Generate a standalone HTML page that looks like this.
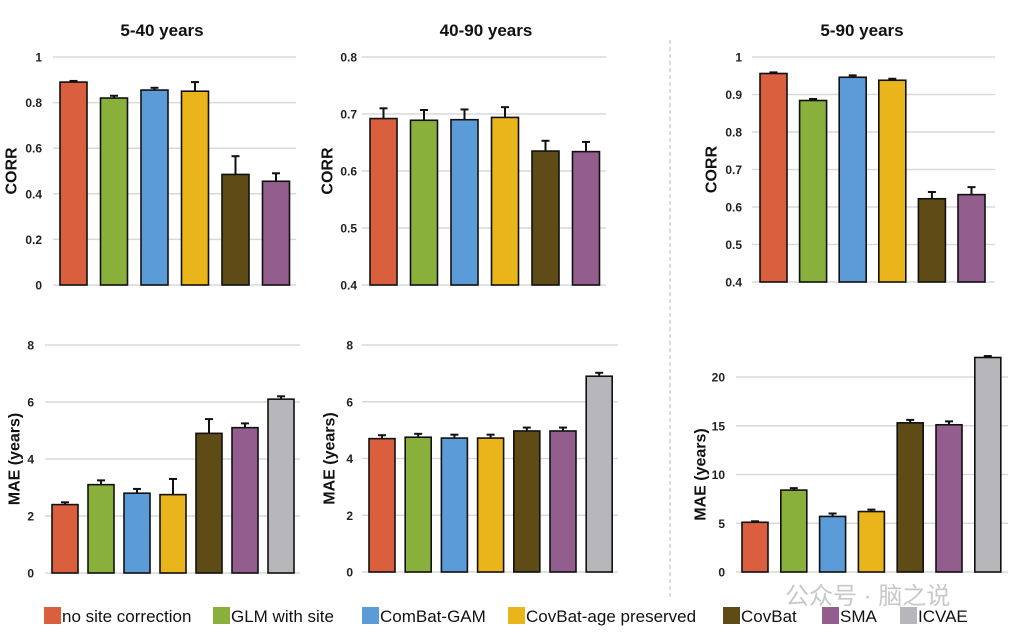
<!DOCTYPE html>
<html><head><meta charset="utf-8"><style>
body{margin:0;background:#fff;width:1021px;height:639px;overflow:hidden;font-family:"Liberation Sans",Arial,sans-serif}
svg{position:absolute;left:0;top:0}
</style></head><body>
<svg id="c" width="1021" height="639"></svg>
<script>
const colors=["#d95f3f","#88b03a","#5a9bd8","#e9b51a","#5e4b16","#935d8e","#b7b6ba"];
const names=["no site correction","GLM with site","ComBat-GAM","CovBat-age preserved","CovBat","SMA","ICVAE"];
const corr540=[0.89,0.82,0.855,0.85,0.485,0.455];
const corr540Err=[0.005,0.01,0.01,0.04,0.08,0.035];
const corr4090=[0.692,0.689,0.690,0.694,0.635,0.634];
const corr4090Err=[0.018,0.018,0.018,0.018,0.018,0.017];
const corr590=[0.956,0.884,0.946,0.938,0.622,0.633];
const corr590Err=[0.003,0.004,0.005,0.004,0.018,0.02];
const mae540=[2.4,3.1,2.8,2.75,4.9,5.1,6.1];
const mae540Err=[0.08,0.15,0.15,0.55,0.5,0.15,0.1];
const mae4090=[4.7,4.75,4.72,4.72,4.97,4.97,6.9];
const mae4090Err=[0.12,0.12,0.12,0.12,0.12,0.12,0.12];
const mae590=[5.1,8.4,5.7,6.2,15.3,15.1,22.0];
const mae590Err=[0.1,0.2,0.3,0.2,0.3,0.35,0.15];
const corrTicks540=[0,0.2,0.4,0.6,0.8,1];
const corrTicks4090=[0.4,0.5,0.6,0.7,0.8];
const corrTicks590=[0.4,0.5,0.6,0.7,0.8,0.9,1];
const maeTicks=[0,2,4,6,8];
const maeTicks590=[0,5,10,15,20];
const titles=["5-40 years","40-90 years","5-90 years"];

const svg=document.getElementById('c');
const NS="http://www.w3.org/2000/svg";
function mk(tag,attrs,parent){const e=document.createElementNS(NS,tag);for(const k in attrs)e.setAttribute(k,attrs[k]);(parent||svg).appendChild(e);return e;}
function tickLabel(t){return String(t);}

const panels=[
 {name:"corr-5-40",vals:corr540,err:corr540Err,ticks:corrTicks540,min:0,max:1,yTop:57,yBot:285,x0:60,step:40.5,bw:27,gx0:53,gx1:296,lx:42,ylab:"CORR",ylx:12},
 {name:"corr-40-90",vals:corr4090,err:corr4090Err,ticks:corrTicks4090,min:0.4,max:0.8,yTop:57,yBot:285,x0:370,step:40.5,bw:27,gx0:362,gx1:606,lx:357,ylab:"CORR",ylx:328},
 {name:"corr-5-90",vals:corr590,err:corr590Err,ticks:corrTicks590,min:0.4,max:1,yTop:57,yBot:282,x0:760,step:39.6,bw:27,gx0:752,gx1:995,lx:742,ylab:"CORR",ylx:712},
 {name:"mae-5-40",vals:mae540,err:mae540Err,ticks:maeTicks,min:0,max:8,yTop:345,yBot:573,x0:52,step:36,bw:26,gx0:45,gx1:300,lx:34,ylab:"MAE (years)",ylx:15},
 {name:"mae-40-90",vals:mae4090,err:mae4090Err,ticks:maeTicks,min:0,max:8,yTop:345,yBot:572,x0:369,step:36.2,bw:26,gx0:362,gx1:618,lx:353,ylab:"MAE (years)",ylx:330},
 {name:"mae-5-90",vals:mae590,err:mae590Err,ticks:maeTicks590,min:0,max:20,yTop:377,yBot:572,x0:742,step:38.8,bw:26,gx0:736,gx1:1008,lx:725,ylab:"MAE (years)",ylx:701},
];
panels.forEach(p=>{
 const g=mk('g',{});
 
 
 const y=v=>p.yBot-(v-p.min)/(p.max-p.min)*(p.yBot-p.yTop);
 p.ticks.forEach(t=>{
  mk('line',{x1:p.gx0,x2:p.gx1,y1:y(t),y2:y(t),stroke:"#d9d9d9","stroke-width":1.5},g);
  const tx=mk('text',{x:p.lx,y:y(t)+4.5,"text-anchor":"end","font-size":12,"font-weight":"bold",fill:"#222"},g);
  tx.textContent=tickLabel(t);
  
  
 });
 const cy=(p.yTop+p.yBot)/2;
 const yl=mk('text',{x:p.ylx,y:cy,transform:`rotate(-90 ${p.ylx} ${cy})`,"text-anchor":"middle","dominant-baseline":"central","font-size":16,"font-weight":"bold",fill:"#111"},g);
 yl.textContent=p.ylab;
 
 
 p.vals.forEach((v,i)=>{
  const x=p.x0+i*p.step;
  const top=y(v);
  const eT=y(v+p.err[i]);
  mk('line',{x1:x+p.bw/2,x2:x+p.bw/2,y1:top,y2:eT,stroke:"#111","stroke-width":2},g);
  mk('line',{x1:x+p.bw/2-4,x2:x+p.bw/2+4,y1:eT,y2:eT,stroke:"#111","stroke-width":2},g);
  const r=mk('rect',{x:x,y:top,width:p.bw,height:p.yBot-top,fill:colors[i],stroke:"#111","stroke-width":1.6},g);
  
  
 });
});
[[162,titles[0]],[486,titles[1]],[862,titles[2]]].forEach(([x,t])=>{
 const e=mk('text',{x:x,y:36,"text-anchor":"middle","font-size":17,"font-weight":"bold",fill:"#111"});
 e.textContent=t;
 
 
});
const d=mk('line',{x1:670,x2:670,y1:40,y2:600,stroke:"#bbb","stroke-width":1,"stroke-dasharray":"4,3"});


const legX=[44,213,362,508,723,822,900];
names.forEach((n,i)=>{
 const g=mk('g',{});
 
 
 mk('rect',{x:legX[i],y:607,width:17,height:17,fill:colors[i]},g);
 const t=mk('text',{x:legX[i]+18,y:622,"font-size":17,fill:"#111"},g);
 t.textContent=n;
});
const wm=mk('text',{x:785,y:604,"font-size":24,fill:"#c8c8c8","font-family":"'Liberation Sans','Noto Sans CJK SC',sans-serif"});
wm.textContent="公众号 · 脑之说";


</script>
</body></html>
